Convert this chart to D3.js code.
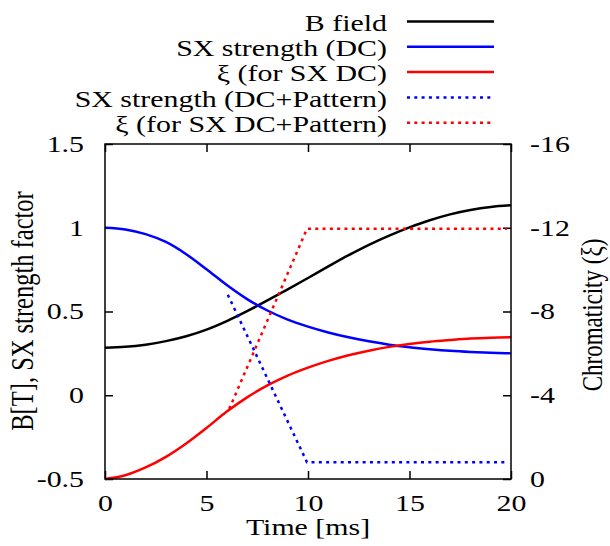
<!DOCTYPE html>
<html>
<head>
<meta charset="utf-8">
<script src="https://cdn.jsdelivr.net/npm/d3@7"></script>
<style>
  body { margin: 0; background: #fff; }
  text { font-family: "Liberation Serif", "DejaVu Serif", serif; font-size: 23px; fill: #000; }
</style>
</head>
<body>
<svg id="chart" width="610" height="546"></svg>
<script>
// values
var timeMs  = [0, 1, 2, 3, 4, 5, 6, 7, 8, 9, 10, 11, 12, 13, 14, 15, 16, 17, 18, 19, 20];
var bField  = [0.284, 0.289, 0.302, 0.323, 0.352, 0.392, 0.443, 0.502, 0.566, 0.632, 0.700, 0.769, 0.836, 0.898, 0.953, 1.002, 1.045, 1.080, 1.106, 1.124, 1.134];
var sxDC    = [1.000, 0.990, 0.962, 0.915, 0.842, 0.752, 0.658, 0.574, 0.506, 0.452, 0.410, 0.375, 0.346, 0.322, 0.302, 0.287, 0.275, 0.265, 0.258, 0.253, 0.250];
var xiDC    = [0, -0.18, -0.55, -1.06, -1.70, -2.44, -3.22, -3.90, -4.47, -4.94, -5.32, -5.64, -5.91, -6.13, -6.31, -6.45, -6.56, -6.64, -6.71, -6.75, -6.77];

var sxPatTime = [6.05, 9.95, 19.8];
var sxPattern = [0.60, -0.40, -0.40];
var xiPatTime = [6.12, 9.95, 19.8];
var xiPattern = [-3.35, -11.95, -11.95];

var xTicks  = [0, 5, 10, 15, 20];
var yTicks  = [-0.5, 0, 0.5, 1, 1.5];
var y2Ticks = [0, -4, -8, -12, -16];

var legendNames = ["B field", "SX strength (DC)", "\u03be (for SX DC)", "SX strength (DC+Pattern)", "\u03be (for SX DC+Pattern)"];

var plotL = 105, plotR = 511, plotT = 144, plotB = 479;
var sx = 1.3;  // the picture is stretched sideways

var svg = d3.select("#chart");

var x = d3.scaleLinear().domain([0, 20]).range([plotL, plotR]);
var y = d3.scaleLinear().domain([-0.5, 1.5]).range([plotB, plotT]);
var y2 = d3.scaleLinear().domain([0, -16]).range([plotB, plotT]);

// axes, ticks pointing inwards
svg.append("g").attr("transform", "translate(0," + plotB + ")")
    .call(d3.axisBottom(x).tickValues(xTicks).tickSize(-8).tickSizeOuter(0).tickPadding(16).tickFormat(String));

svg.append("g").attr("transform", "translate(0," + plotT + ")")
    .call(d3.axisTop(x).tickValues(xTicks).tickSize(-8).tickSizeOuter(0).tickFormat(""));

svg.append("g").attr("transform", "translate(" + plotL + ",0)")
    .call(d3.axisLeft(y).tickValues(yTicks).tickSize(-8).tickSizeOuter(0).tickPadding(21).tickFormat(String));

svg.append("g").attr("transform", "translate(" + plotR + ",0)")
    .call(d3.axisRight(y2).tickValues(y2Ticks).tickSize(-8).tickSizeOuter(0).tickPadding(19).tickFormat(String));

svg.selectAll(".domain").remove();
svg.selectAll(".tick line").attr("stroke", "#000").attr("stroke-width", 1.5);
svg.selectAll(".tick text")
    .attr("fill", "#000")
    .each(function() {
        var t = d3.select(this);
        t.attr("x", (+t.attr("x") || 0) / sx).attr("transform", "scale(" + sx + ",1)");
    });

// curves
var pts = function(xs, ys) { return xs.map(function(d, i) { return [d, ys[i]]; }); };

var lineL = d3.line().x(function(d) { return x(d[0]); }).y(function(d) { return y(d[1]); }).curve(d3.curveMonotoneX);
var lineR = d3.line().x(function(d) { return x(d[0]); }).y(function(d) { return y2(d[1]); }).curve(d3.curveMonotoneX);

var series = [
    { d: lineL(pts(timeMs, bField)), color: "#000000", dash: null },
    { d: lineL(pts(timeMs, sxDC)), color: "#0000ff", dash: null },
    { d: lineR(pts(timeMs, xiDC)), color: "#ff0000", dash: null },
    { d: lineL.curve(d3.curveLinear)(pts(sxPatTime, sxPattern)), color: "#0000ff", dash: "3,4.3" },
    { d: lineR.curve(d3.curveLinear)(pts(xiPatTime, xiPattern)), color: "#ff0000", dash: "3,4.3" }
];

svg.selectAll("path.curve")
    .data(series)
    .enter()
    .append("path")
    .attr("class", "curve")
    .attr("d", function(s) { return s.d; })
    .attr("fill", "none")
    .attr("stroke", function(s) { return s.color; })
    .attr("stroke-width", 2.5)
    .attr("stroke-dasharray", function(s) { return s.dash; });

// frame
svg.append("rect")
    .attr("x", plotL).attr("y", plotT)
    .attr("width", plotR - plotL).attr("height", plotB - plotT)
    .attr("fill", "none").attr("stroke", "#000").attr("stroke-width", 1.5);

// axis titles
svg.append("text")
    .attr("transform", "translate(308,535) scale(" + sx + ",1)")
    .attr("text-anchor", "middle")
    .text("Time [ms]");

svg.append("text")
    .attr("transform", "translate(33,311) scale(" + sx + ",1) rotate(-90)")
    .attr("text-anchor", "middle")
    .style("font-size", "24.5px")
    .text("B[T], SX strength factor");

svg.append("text")
    .attr("transform", "translate(602,315) scale(" + sx + ",1) rotate(-90)")
    .attr("text-anchor", "middle")
    .text("Chromaticity (\u03be)");

// legend
var legendY = [21.5, 46.7, 71.9, 97.5, 122.8];
var legend = svg.selectAll("g.legend")
    .data(series)
    .enter()
    .append("g")
    .attr("class", "legend")
    .attr("transform", function(s, i) { return "translate(0," + legendY[i] + ")"; });

legend.append("line")
    .attr("x1", 407).attr("x2", 494)
    .attr("stroke", function(s) { return s.color; })
    .attr("stroke-width", 2.5)
    .attr("stroke-dasharray", function(s) { return s.dash; });

legend.append("text")
    .attr("transform", "translate(387,9) scale(" + sx + ",1)")
    .attr("text-anchor", "end")
    .text(function(s, i) { return legendNames[i]; });
</script>
</body>
</html>
